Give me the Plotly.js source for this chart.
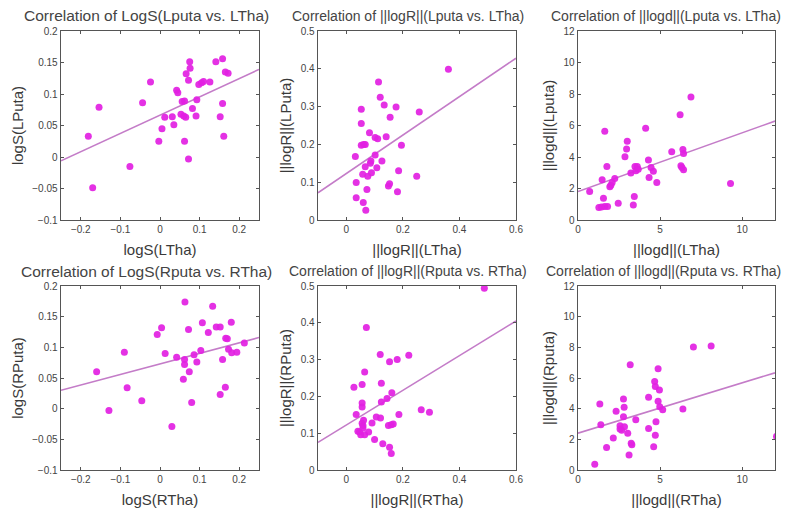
<!DOCTYPE html>
<html>
<head>
<meta charset="utf-8">
<script src="https://cdn.plot.ly/plotly-3.0.1.min.js"></script>
<style>html,body{margin:0;padding:0;background:#fff;}#chart{width:785px;height:508px;}</style>
</head>
<body>
<div id="chart"></div>
<script>
// Panel 1: LogS (Lputa vs LTha)
const p1x = [-0.181,-0.170,-0.154,-0.076,-0.044,-0.024,-0.003,0.005,0.012,0.031,0.035,0.042,0.045,0.053,0.056,0.062,0.060,0.065,0.062,0.066,0.072,0.075,0.076,0.072,0.082,0.091,0.093,0.098,0.105,0.110,0.126,0.141,0.152,0.158,0.158,0.161,0.165,0.172];
const p1y = [0.033,-0.049,0.079,-0.015,0.086,0.119,0.025,0.045,0.063,0.064,0.051,0.106,0.102,0.068,0.088,0.089,0.065,0.063,0.025,0.132,0.122,0.151,0.141,-0.003,0.077,0.065,0.091,0.115,0.118,0.120,0.119,0.151,0.064,0.156,0.085,0.033,0.135,0.133];
const p1fitX = [-0.25, 0.25];
const p1fitY = [-0.006, 0.139];

// Panel 2: ||logR|| (Lputa vs LTha)
const p2x = [0.032,0.035,0.035,0.053,0.053,0.053,0.061,0.067,0.058,0.060,0.067,0.069,0.073,0.076,0.082,0.085,0.087,0.089,0.102,0.102,0.111,0.108,0.114,0.120,0.126,0.134,0.141,0.149,0.153,0.155,0.176,0.181,0.185,0.195,0.249,0.258,0.361];
const p2y = [0.168,0.099,0.059,0.293,0.255,0.198,0.200,0.200,0.121,0.046,0.141,0.026,0.081,0.116,0.231,0.150,0.156,0.125,0.172,0.218,0.215,0.138,0.365,0.325,0.156,0.304,0.220,0.090,0.096,0.272,0.299,0.075,0.130,0.198,0.116,0.286,0.399];
const p2fitX = [-0.1, 0.6];
const p2fitY = [0.072, 0.428];

// Panel 3: ||logd|| (Lputa vs LTha)
const p3x = [0.71,1.27,1.43,1.55,1.47,1.63,1.63,1.80,1.76,1.94,2.00,2.08,2.24,2.45,2.86,2.96,3.00,3.22,3.37,3.43,3.47,3.53,3.61,3.67,4.12,4.29,4.33,4.45,4.59,4.80,5.71,6.22,6.27,6.33,6.39,6.43,6.43,6.88,9.29];
const p3y = [1.81,0.79,0.83,1.38,2.55,5.64,0.85,0.85,3.40,2.11,2.21,2.38,2.64,1.06,4.02,4.51,5.00,2.98,0.96,1.49,3.40,3.13,3.40,3.23,5.83,3.81,2.70,3.34,3.09,2.38,4.34,6.68,3.45,3.34,4.47,4.23,3.19,7.81,2.32];
const p3fitX = [0, 12];
const p3fitY = [1.81, 6.28];

// Panel 4: LogS (Rputa vs RTha)
const p4x = [-0.160,-0.129,-0.090,-0.083,-0.046,-0.007,0.004,0.013,0.030,0.042,0.059,0.062,0.062,0.063,0.072,0.074,0.080,0.086,0.093,0.103,0.107,0.122,0.133,0.142,0.152,0.152,0.158,0.165,0.166,0.170,0.173,0.180,0.181,0.194,0.213];
const p4y = [0.060,-0.003,0.092,0.034,0.013,0.121,0.132,0.090,-0.029,0.084,0.048,0.080,0.072,0.174,0.129,0.060,0.010,0.088,0.076,0.095,0.140,0.124,0.167,0.133,0.133,0.023,0.080,0.035,0.115,0.114,0.097,0.141,0.091,0.092,0.107];
const p4fitX = [-0.25, 0.25];
const p4fitY = [0.030, 0.116];

// Panel 5: ||logR|| (Rputa vs RTha)
const p5x = [0.027,0.035,0.041,0.047,0.051,0.056,0.056,0.056,0.056,0.059,0.059,0.061,0.065,0.065,0.071,0.079,0.091,0.100,0.106,0.121,0.120,0.124,0.124,0.129,0.144,0.149,0.153,0.153,0.159,0.159,0.161,0.166,0.180,0.186,0.221,0.265,0.294,0.488];
const p5y = [0.225,0.151,0.105,0.103,0.096,0.232,0.182,0.171,0.127,0.121,0.114,0.135,0.096,0.266,0.387,0.103,0.128,0.083,0.144,0.141,0.314,0.236,0.185,0.071,0.194,0.121,0.294,0.062,0.123,0.045,0.210,0.125,0.300,0.151,0.312,0.164,0.157,0.494];
const p5fitX = [-0.1, 0.6];
const p5fitY = [0.075, 0.405];

// Panel 6: ||logd|| (Rputa vs RTha)
const p6x = [1.02,1.33,1.39,1.74,2.15,2.32,2.56,2.56,2.66,2.77,2.81,2.77,2.83,3.03,3.11,3.18,3.24,3.28,3.52,4.30,4.30,4.61,4.67,4.71,4.71,4.75,4.88,4.88,4.96,4.98,5.16,6.39,7.03,8.11,12.09];
const p6y = [0.37,4.31,2.95,1.46,2.08,3.83,2.89,2.67,2.60,4.63,4.09,3.48,2.82,2.40,0.98,6.86,1.75,1.64,3.28,2.71,4.74,1.51,5.77,5.44,2.27,3.15,6.60,4.48,5.22,4.13,3.93,3.98,8.02,8.09,2.19];
const p6fitX = [0, 12];
const p6fitY = [2.40, 6.34];

const titles = [
  "Correlation of LogS(Lputa vs. LTha)",
  "Correlation of ||logR||(Lputa vs. LTha)",
  "Correlation of ||logd||(Lputa vs. LTha)",
  "Correlation of LogS(Rputa vs. RTha)",
  "Correlation of ||logR||(Rputa vs. RTha)",
  "Correlation of ||logd||(Rputa vs. RTha)"
];
const xLabels = ["logS(LTha)", "||logR||(LTha)", "||logd||(LTha)", "logS(RTha)", "||logR||(RTha)", "||logd||(RTha)"];
const yLabels = ["logS(LPuta)", "||logR||(LPuta)", "||logd||(Lputa)", "logS(RPuta)", "||logR||(RPuta)", "||logd||(Rputa)"];

const xRanges = [[-0.25,0.25],[-0.1,0.6],[0,12],[-0.25,0.25],[-0.1,0.6],[0,12]];
const yRanges = [[-0.1,0.2],[0,0.5],[0,12],[-0.1,0.2],[0,0.5],[0,12]];
const xDticks = [0.1,0.2,5,0.1,0.2,5];
const yDticks = [0.05,0.1,2,0.05,0.1,2];

const px = [p1x,p2x,p3x,p4x,p5x,p6x];
const py = [p1y,p2y,p3y,p4y,p5y,p6y];
const fx = [p1fitX,p2fitX,p3fitX,p4fitX,p5fitX,p6fitX];
const fy = [p1fitY,p2fitY,p3fitY,p4fitY,p5fitY,p6fitY];

const W = 785, H = 508;
const colPx = [[61,259],[318,516],[578,775]];
const rowPx = [[31,220],[286,470]];
// title placement per column: [x in px, anchor, font size]
const titlePlace = [[146,'center',15.5],[408,'center',14],[783,'right',14]];

const traces = [];
const layout = {
  width: W, height: H,
  margin: {l:0, r:0, t:0, b:0},
  paper_bgcolor: '#ffffff',
  plot_bgcolor: '#ffffff',
  showlegend: false,
  font: {family: 'Liberation Sans, Arial, sans-serif', color: '#444'},
  annotations: []
};

for (let i = 0; i < 6; i++) {
  const r = Math.floor(i / 3), c = i % 3;
  const sfx = i === 0 ? '' : String(i + 1);
  const xa = 'x' + sfx, ya = 'y' + sfx;
  traces.push({
    x: fx[i], y: fy[i], xaxis: xa, yaxis: ya, type: 'scatter', mode: 'lines',
    line: {color: '#c47cc8', width: 1.6}, hoverinfo: 'skip'
  });
  traces.push({
    x: px[i], y: py[i], xaxis: xa, yaxis: ya, type: 'scatter', mode: 'markers',
    marker: {color: '#e21fe2', size: 7, opacity: 0.92, line: {width: 0}}
  });
  const xd = [colPx[c][0] / W, colPx[c][1] / W];
  const yd = [1 - rowPx[r][1] / H, 1 - rowPx[r][0] / H];
  const axCommon = {
    showgrid: false, zeroline: false, showline: true, linecolor: '#555', linewidth: 1.4,
    mirror: 'ticks', ticks: 'inside', ticklen: 3, tickcolor: '#555',
    tickfont: {size: 10, color: '#444'}, automargin: false, fixedrange: true
  };
  layout['xaxis' + sfx] = Object.assign({}, axCommon, {
    domain: xd, range: xRanges[i], dtick: xDticks[i], tick0: 0, anchor: ya,
    title: {text: xLabels[i], font: {size: 15, color: '#3a3a3a'}, standoff: 10}
  });
  layout['yaxis' + sfx] = Object.assign({}, axCommon, {
    domain: yd, range: yRanges[i], dtick: yDticks[i], tick0: 0, anchor: xa,
    title: {text: yLabels[i], font: {size: 15, color: '#3a3a3a'}, standoff: 5}
  });
  const tp = titlePlace[c];
  layout.annotations.push({
    text: titles[i], xref: 'paper', yref: 'paper',
    x: tp[0] / W, y: 1 - (rowPx[r][0] - 15) / H,
    xanchor: tp[1], yanchor: 'middle', showarrow: false,
    font: {size: tp[2], color: '#444'}
  });
}

Plotly.newPlot('chart', traces, layout, {displayModeBar: false, staticPlot: true});
</script>
</body>
</html>
